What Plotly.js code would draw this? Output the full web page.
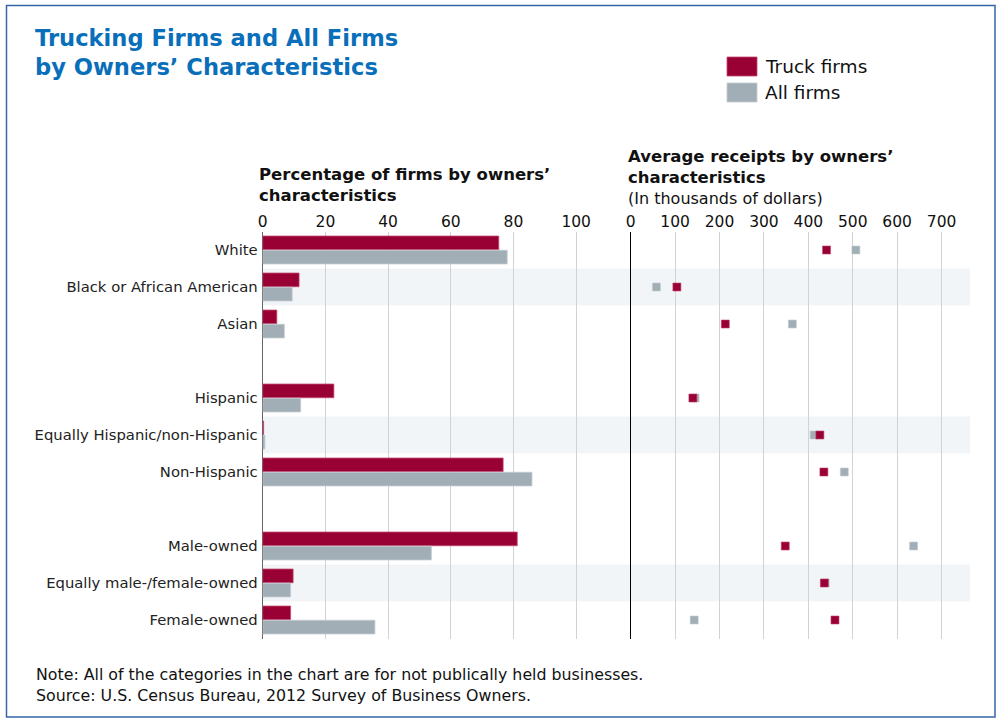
<!DOCTYPE html>
<html>
<head>
<meta charset="utf-8">
<script src="https://cdn.plot.ly/plotly-3.0.1.min.js"></script>
<style>
html,body{margin:0;padding:0;background:#fff;}
#chart{width:1000px;height:725px;}
</style>
</head>
<body>
<div id="chart"></div>
<script>
// ---- Data ----
var categories = [
  "White", "Black or African American", "Asian",
  "Hispanic", "Equally Hispanic/non-Hispanic", "Non-Hispanic",
  "Male-owned", "Equally male-/female-owned", "Female-owned"
];
var groupSizes = [3, 3, 3];
var seriesNames = ["Truck firms", "All firms"];
// Percentage of firms by owners' characteristics
var truckPct = [75.3, 11.6, 4.5, 22.7, 0.3, 76.7, 81.2, 9.7, 8.9];
var allPct   = [78.0, 9.4, 6.9, 12.1, 0.7, 85.9, 53.8, 8.9, 35.8];
// Average receipts (thousands of dollars)
var truckRcpt = [441, 104, 213, 140, 426, 435, 348, 436, 460];
var allRcpt   = [507, 58, 364, 145, 413, 481, 637, 438, 143];
var pctTicks = [0, 20, 40, 60, 80, 100];
var rcptTicks = [0, 100, 200, 300, 400, 500, 600, 700];
var shadedRows = ["Black or African American", "Equally Hispanic/non-Hispanic", "Equally male-/female-owned"];

// ---- Positions (groups separated by a blank row) ----
var pos = [];
(function(){
  var p = 0;
  groupSizes.forEach(function(n){
    for (var i = 0; i < n; i++) { pos.push(p); p++; }
    p++; // blank row between groups
  });
})();

var RED = "#990033", GRAY = "#a2aeb6";
var FONT = "DejaVu Sans, sans-serif";

var traces = [
  {type:"bar", orientation:"h", name:seriesNames[0], x:truckPct, y:pos, xaxis:"x", yaxis:"y",
   marker:{color:RED, line:{color:"#c4476f", width:0.8}}, showlegend:false, hoverinfo:"x"},
  {type:"bar", orientation:"h", name:seriesNames[1], x:allPct, y:pos, xaxis:"x", yaxis:"y",
   marker:{color:GRAY, line:{color:"#c3ccd2", width:0.8}}, showlegend:false, hoverinfo:"x"},
  {type:"scatter", mode:"markers", name:seriesNames[1], x:allRcpt, y:pos, xaxis:"x2", yaxis:"y",
   marker:{symbol:"square", size:8, color:GRAY, line:{color:"#c3ccd2", width:0.6}}, showlegend:false},
  {type:"scatter", mode:"markers", name:seriesNames[0], x:truckRcpt, y:pos, xaxis:"x2", yaxis:"y",
   marker:{symbol:"square", size:8, color:RED, line:{color:"#c4476f", width:0.6}}, showlegend:false}
];

var W = 1000, H = 725;
function fx(px){ return px / W; }
function fy(py){ return 1 - py / H; }

var shapes = [];
// shaded bands
shadedRows.forEach(function(c){
  var p = pos[categories.indexOf(c)];
  shapes.push({type:"rect", xref:"paper", yref:"y", x0:fx(262), x1:fx(970), y0:p-0.5, y1:p+0.5,
    fillcolor:"#f2f5f8", line:{width:0}, layer:"below"});
});
// frame
shapes.push({type:"rect", xref:"paper", yref:"paper", x0:fx(6.5), x1:fx(995), y0:fy(717), y1:fy(5.5),
  line:{color:"#3467a8", width:1.5}, fillcolor:"rgba(0,0,0,0)"});
// legend swatches
shapes.push({type:"rect", xref:"paper", yref:"paper", x0:fx(727), x1:fx(757), y0:fy(76), y1:fy(57),
  fillcolor:RED, line:{color:"#c4476f", width:0.8}});
shapes.push({type:"rect", xref:"paper", yref:"paper", x0:fx(727), x1:fx(757), y0:fy(102), y1:fy(83),
  fillcolor:GRAY, line:{color:"#c3ccd2", width:0.8}});

var annotations = [
  {xref:"paper", yref:"paper", x:fx(763), y:fy(66), xanchor:"left", yanchor:"middle", showarrow:false,
   text:seriesNames[0], font:{family:FONT, size:18.5, color:"#111"}},
  {xref:"paper", yref:"paper", x:fx(763), y:fy(92), xanchor:"left", yanchor:"middle", showarrow:false,
   text:seriesNames[1], font:{family:FONT, size:18.5, color:"#111"}},
  {xref:"paper", yref:"paper", x:fx(257), y:fy(163), xanchor:"left", yanchor:"top", showarrow:false, align:"left",
   text:"<b>Percentage of firms by owners’<br>characteristics</b>", font:{family:FONT, size:16.5, color:"#111"}},
  {xref:"paper", yref:"paper", x:fx(626), y:fy(145), xanchor:"left", yanchor:"top", showarrow:false, align:"left",
   text:"<b>Average receipts by owners’<br>characteristics</b>", font:{family:FONT, size:16.5, color:"#111"}},
  {xref:"paper", yref:"paper", x:fx(626), y:fy(187), xanchor:"left", yanchor:"top", showarrow:false, align:"left",
   text:"(In thousands of dollars)", font:{family:FONT, size:16, color:"#111"}},
  {xref:"paper", yref:"paper", x:fx(34), y:fy(663), xanchor:"left", yanchor:"top", showarrow:false, align:"left",
   text:"Note: All of the categories in the chart are for not publically held businesses.<br>Source: U.S. Census Bureau, 2012 Survey of Business Owners.",
   font:{family:FONT, size:15.8, color:"#111"}}
];

var layout = {
  width: W, height: H,
  margin:{l:0, r:0, t:0, b:0},
  paper_bgcolor:"#fff", plot_bgcolor:"rgba(0,0,0,0)",
  font:{family:FONT, color:"#111"},
  title:{text:"<b>Trucking Firms and All Firms<br>by Owners’ Characteristics</b>",
    x:fx(35), xanchor:"left", xref:"paper", y:fy(46), yanchor:"top", yref:"container",
    font:{family:FONT, size:22.6, color:"#0a6fba"}},
  barmode:"group", bargap:0.23, bargroupgap:0.04,
  xaxis:{domain:[fx(262.7), fx(600)], range:[0, 107.6], side:"top", anchor:"y",
    tickvals:pctTicks, ticktext:pctTicks.map(String), showgrid:true, gridcolor:"#d2d2d2", gridwidth:1,
    zeroline:true, zerolinecolor:"#666", zerolinewidth:1.5, showline:false, ticks:"",
    tickfont:{family:FONT, size:15.5, color:"#111"}, fixedrange:true},
  xaxis2:{domain:[fx(630.7), fx(970)], range:[0, 764], side:"top", anchor:"y",
    tickvals:rcptTicks, ticktext:rcptTicks.map(String), showgrid:true, gridcolor:"#d2d2d2", gridwidth:1,
    zeroline:true, zerolinecolor:"#000", zerolinewidth:1.5, showline:false, ticks:"",
    tickfont:{family:FONT, size:15.5, color:"#111"}, fixedrange:true},
  yaxis:{domain:[fy(638.5), fy(231.5)], range:[pos[pos.length-1]+0.5, -0.5],
    tickvals:pos, ticktext:categories, showgrid:false, zeroline:false, showline:false, ticks:"",
    ticklabelstandoff:4,
    tickfont:{family:FONT, size:14.8, color:"#222"}, fixedrange:true},
  shapes:shapes,
  annotations:annotations
};

Plotly.newPlot("chart", traces, layout, {displayModeBar:false, staticPlot:true});
</script>
</body>
</html>
